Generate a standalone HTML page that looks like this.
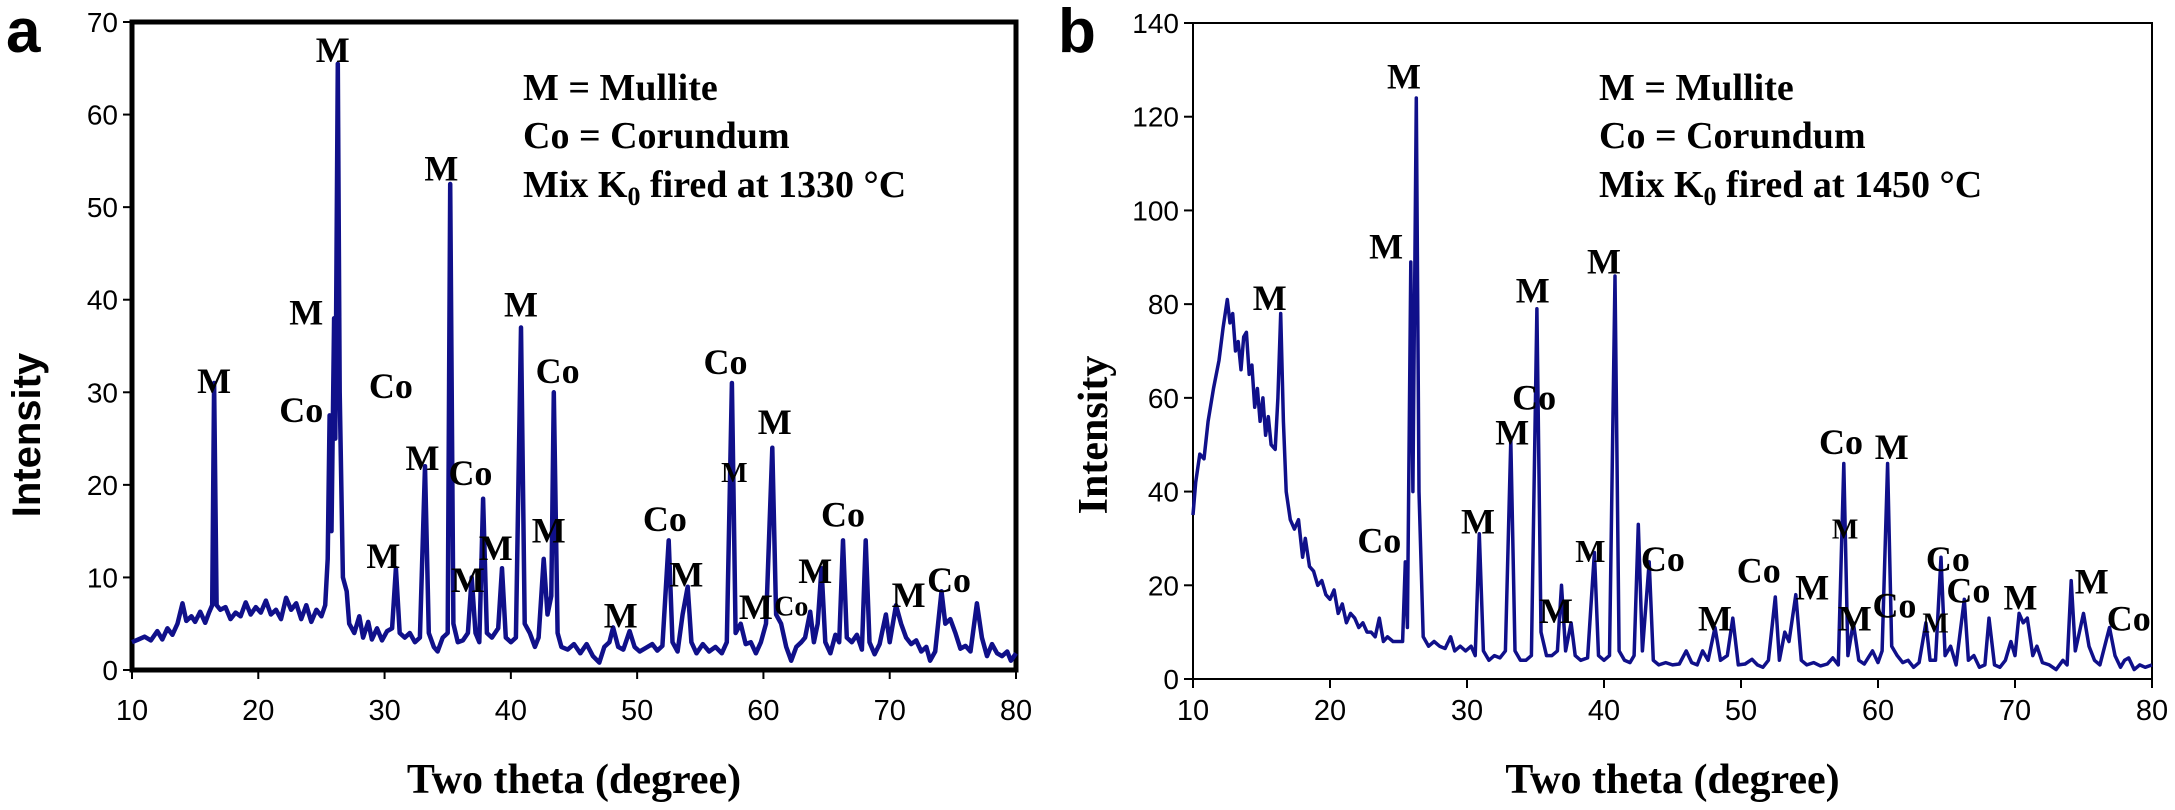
<!DOCTYPE html>
<html><head><meta charset="utf-8"><style>
html,body{margin:0;padding:0;background:#fff;}
svg{display:block;}
</style></head><body>
<svg id="fig" width="2175" height="810" viewBox="0 0 2175 810" xmlns="http://www.w3.org/2000/svg"></svg>
<script>
const xTicks = [10,20,30,40,50,60,70,80];
const yTicksA = [0,10,20,30,40,50,60,70];
const yTicksB = [0,20,40,60,80,100,120,140];
const thetaA = [10,10.5,11,11.5,12,12.4,12.8,13.2,13.6,14,14.3,14.7,15,15.4,15.8,16.1,16.35,16.5,16.7,17,17.4,17.8,18.2,18.6,19,19.4,19.8,20.2,20.6,21,21.4,21.8,22.2,22.6,23,23.4,23.8,24.2,24.6,25,25.3,25.5,25.65,25.8,26.0,26.1,26.3,26.45,26.7,27,27.2,27.6,28,28.3,28.7,29,29.4,29.8,30.2,30.6,30.9,31.2,31.6,32,32.4,32.8,33.2,33.5,33.9,34.2,34.6,35,35.2,35.45,35.8,36.2,36.6,36.9,37.2,37.5,37.8,38.1,38.5,39,39.3,39.6,40,40.4,40.8,41.1,41.5,41.9,42.2,42.6,42.9,43.2,43.4,43.7,44,44.5,45,45.5,46,46.5,47,47.4,47.8,48.1,48.5,48.9,49.4,49.8,50.2,50.7,51.2,51.6,52,52.5,52.8,53.2,53.6,54,54.3,54.7,55.2,55.7,56.2,56.7,57.1,57.5,57.8,58.2,58.6,59,59.4,59.8,60.2,60.7,61,61.4,61.8,62.2,62.6,63,63.3,63.7,64,64.3,64.6,64.9,65.3,65.7,66,66.3,66.6,67,67.4,67.8,68.1,68.4,68.8,69.2,69.7,70,70.5,70.9,71.3,71.7,72.1,72.5,72.9,73.2,73.6,74.1,74.4,74.8,75.2,75.6,76,76.4,76.9,77.3,77.7,78.1,78.5,78.9,79.3,79.6,80];
const intensityA = [3,3.3,3.6,3.2,4.2,3.3,4.5,3.8,5,7.2,5.3,5.8,5.2,6.3,5.1,6.2,7,31,7,6.5,6.8,5.5,6.2,5.8,7.3,6,6.8,6.2,7.5,6,6.5,5.5,7.8,6.5,7.2,5.5,7,5.2,6.5,5.8,7,12,27.5,15,38,25,65.5,30,10,8.5,5,4,5.8,3.5,5.2,3.3,4.5,3.2,4.2,4.5,11,4,3.5,4,3,3.5,22,4,2.5,2,3.5,4,52.5,5,3,3.2,4,10,4,3,18.5,4,3.5,4.5,11,3.5,3,3.5,37,5,4,2.5,3.5,12,6,8,30,4,2.5,2.2,2.8,1.8,2.8,1.5,0.8,2.5,3,4.6,2.5,2.2,4.2,2.5,2,2.4,2.8,2.1,2.6,14,3,2,6,9,3,1.8,2.8,2,2.5,1.8,3,31,4,5,2.8,3,1.8,3,5,24,6,5,2.5,1,2.5,3,3.5,6.3,3,5,11,3,1.8,3.8,3,14,3.5,3,3.8,2.2,14,3,1.7,2.8,6,3,7,5,3.5,2.8,3.2,2,2.5,1,2,8.5,5,5.5,4,2.3,2.6,2,7.2,3.5,1.5,2.8,1.8,1.5,2,1,1.8];
const thetaB = [10,10.2,10.5,10.8,11.1,11.5,11.9,12.2,12.5,12.7,12.9,13.1,13.3,13.5,13.7,13.9,14.1,14.3,14.5,14.7,14.9,15.1,15.3,15.5,15.7,16.0,16.2,16.4,16.6,16.8,17.1,17.4,17.7,18,18.2,18.5,18.8,19.1,19.4,19.7,20,20.3,20.6,20.9,21.2,21.5,21.8,22.1,22.4,22.7,23,23.3,23.6,23.9,24.2,24.6,25,25.3,25.5,25.65,25.9,26.05,26.3,26.5,26.8,27.2,27.6,28,28.4,28.8,29.1,29.5,29.9,30.3,30.6,30.9,31.2,31.6,32,32.4,32.8,33.2,33.5,33.9,34.3,34.7,35.1,35.4,35.8,36.2,36.6,36.9,37.2,37.6,37.9,38.3,38.8,39.3,39.6,40,40.4,40.8,41.1,41.5,41.9,42.2,42.5,42.8,43.3,43.6,44,44.5,45,45.5,46,46.4,46.8,47.2,47.6,48.1,48.5,49,49.4,49.8,50.3,50.8,51.2,51.6,52,52.5,52.8,53.2,53.5,54,54.4,54.8,55.3,55.8,56.3,56.7,57.1,57.5,57.8,58.2,58.6,59,59.6,60,60.3,60.7,61,61.4,61.8,62.2,62.6,63,63.5,63.8,64.2,64.6,64.9,65.3,65.7,66.3,66.6,67,67.4,67.8,68.1,68.5,68.9,69.3,69.7,70,70.3,70.6,70.9,71.3,71.6,72,72.5,73,73.5,73.8,74.1,74.4,75,75.4,75.8,76.2,76.9,77.3,77.7,78,78.3,78.7,79.1,79.5,80];
const intensityB = [35,42,48,47,55,62,68,75,81,76,78,70,72,66,73,74,65,67,58,62,55,60,52,56,50,49,60,78,55,40,34,32,34,26,30,24,23,20,21,18,17,19,14,16,12,14,13,11,12,10,10,9,13,8,9,8,8,8,25,11,89,40,124,40,9,7,8,7,6.5,9,6,7,6,7,5,31,6,4,5,4.5,6,51,6,4,4,5,79,10,5,5,6,20,6,12,5,4,4.5,27,5,4,5,86,6,4,3.5,5,33,6,25,4,3,3.5,3,3.2,6,3.5,3,6,4,11,4,5,13,3,3.2,4.2,3,2.5,4,17.5,4,10,8,18,4,3,3.5,2.8,3.2,4.5,3,46,5,12,4,3.2,6,3.5,6,46,7,5,3.5,4,2.5,3.5,12,4,4,26,5,7,3,17,4,5,2.5,3,13,3,2.5,4,8,5,14,12,13,5,7,3.5,3,2,4,3,21,6,14,7,4,3,11,5,2.5,4,4.5,2,3,2.5,3];
const labelTextA = ["M","Co","M","M","Co","M","M","Co","M","Co","M","M","M","M","Co","M","Co","M","M","Co","M","Co","M","M","M","Co"];
const labelThetaA = [16.5,23.4,23.8,25.9,30.5,34.5,33.0,36.8,40.8,43.7,29.9,36.6,38.8,43.0,52.2,53.9,57.0,57.7,60.9,66.3,48.7,62.2,59.4,64.1,71.5,74.7];
const labelValA = [29.9,26.8,37.3,65.7,29.4,52.9,21.6,20.0,38.2,31.0,11.0,8.4,11.9,13.8,15.0,9.0,32.0,20.3,25.5,15.5,4.6,5.9,5.5,9.4,6.8,8.4];
const labelSizeA = [36,36,36,36,36,36,36,36,36,36,36,36,36,36,36,36,36,28,36,36,36,28,36,36,36,36];
const labelTextB = ["M","M","M","M","M","Co","M","M","M","M","Co","Co","Co","M","M","Co","M","M","Co","M","Co","Co","M","M","Co","M"];
const labelThetaB = [15.6,24.1,25.4,34.8,40.0,34.9,33.3,30.8,36.5,39.0,44.3,23.6,51.3,55.2,48.1,57.3,57.6,61.0,61.2,58.3,65.1,66.6,64.2,70.4,78.3,75.6];
const labelValB = [78.7,89.7,126,80.4,86.5,57.5,50,31,12,25,23,27,20.6,17,10.3,48,30,47,13.1,10.3,23,16.3,9.9,14.8,10.3,18.3];
const labelSizeB = [36,36,36,36,36,36,36,36,36,32,36,36,36,36,36,36,28,36,36,36,36,36,28,36,36,36];
const legendA = ["M = Mullite","Co = Corundum","Mix K","0"," fired at 1330 °C"];
const legendB = ["M = Mullite","Co = Corundum","Mix  K","0","  fired at 1450 °C"];

const NS = "http://www.w3.org/2000/svg";
const svg = document.getElementById('fig');
function mk(tag, attrs, parent){const e=document.createElementNS(NS,tag);for(const k in attrs)e.setAttribute(k,attrs[k]);(parent||svg).appendChild(e);return e;}

function panel(cfg){
  const g = mk('g',{});
  
  
  const sx = v => cfg.x0 + (v-10)/(80-10)*(cfg.x1-cfg.x0);
  const sy = v => cfg.y0 - v/cfg.ymax*(cfg.y0-cfg.y1);
  const fr = mk('rect',{x:cfg.x0,y:cfg.y1,width:cfg.x1-cfg.x0,height:cfg.y0-cfg.y1,fill:'none',stroke:'#000','stroke-width':cfg.frameW},g);
  
  
  cfg.yTicks.forEach(t=>{
    const y=sy(t);
    const l=mk('line',{x1:cfg.x0-9,x2:cfg.x0,y1:y,y2:y,stroke:'#000','stroke-width':2},g);
    
    
    const tx=mk('text',{x:cfg.x0-14,y:y+10,'text-anchor':'end','font-family':'Liberation Sans, sans-serif','font-size':28},g);
    tx.textContent=t;
    
    
  });
  xTicks.forEach(t=>{
    const x=sx(t);
    const l=mk('line',{x1:x,x2:x,y1:cfg.y0,y2:cfg.y0+9,stroke:'#000','stroke-width':2},g);
    
    
    const tx=mk('text',{x:x,y:720,'text-anchor':'middle','font-family':'Liberation Sans, sans-serif','font-size':29},g);
    tx.textContent=t;
    
    
  });
  const pts = cfg.th.map((t,i)=>sx(t).toFixed(1)+','+sy(cfg.iv[i]).toFixed(1)).join(' ');
  const pl = mk('polyline',{points:pts,fill:'none',stroke:'#10108a','stroke-width':cfg.lineW,'stroke-linejoin':'round'},g);
  
  
  cfg.lt.forEach((s,i)=>{
    const tx=mk('text',{x:sx(cfg.lth[i]),y:sy(cfg.lv[i]),'text-anchor':'middle','font-family':'Liberation Serif, serif','font-weight':'bold','font-size':cfg.ls[i]},g);
    tx.textContent=s;
    
    
  });
  const lg = mk('g',{'font-family':'Liberation Serif, serif','font-weight':'bold','font-size':38},g);
  
  
  const t1=mk('text',{x:cfg.lgx,y:100},lg); t1.textContent=cfg.leg[0];
  const t2=mk('text',{x:cfg.lgx,y:148},lg); t2.textContent=cfg.leg[1];
  const t3=mk('text',{x:cfg.lgx,y:197},lg);
  const a=mk('tspan',{},t3); a.textContent=cfg.leg[2];
  const b=mk('tspan',{dy:8,'font-size':26},t3); b.textContent=cfg.leg[3];
  const c=mk('tspan',{dy:-8},t3); c.textContent=cfg.leg[4];
  const xt=mk('text',{x:(cfg.x0+cfg.x1)/2,y:793,'text-anchor':'middle','font-family':'Liberation Serif, serif','font-weight':'bold','font-size':42},g);
  xt.textContent='Two theta (degree)';
  
  
  const yt=mk('text',{x:0,y:0,'text-anchor':'middle','font-family':cfg.ytFont,'font-weight':'bold','font-size':cfg.ytSize,transform:'translate('+cfg.ytx+',435) rotate(-90)'},g);
  yt.textContent='Intensity';
  
  
  const pl2=mk('text',{x:cfg.plx,y:52,'font-family':'Liberation Sans, sans-serif','font-weight':'bold','font-size':62},g);
  pl2.textContent=cfg.letter;
  
  
}

panel({name:'panel-a',x0:132,x1:1016,y0:670,y1:22,ymax:70,yTicks:yTicksA,th:thetaA,iv:intensityA,lt:labelTextA,lth:labelThetaA,lv:labelValA,ls:labelSizeA,leg:legendA,lgx:523,frameW:5,lineW:4.5,ytFont:'Liberation Sans, sans-serif',ytSize:40,ytx:40,plx:6,letter:'a'});
panel({name:'panel-b',x0:1193,x1:2152,y0:679,y1:23,ymax:140,yTicks:yTicksB,th:thetaB,iv:intensityB,lt:labelTextB,lth:labelThetaB,lv:labelValB,ls:labelSizeB,leg:legendB,lgx:1599,frameW:2,lineW:3.5,ytFont:'Liberation Serif, serif',ytSize:42,ytx:1107,plx:1058,letter:'b'});
</script>
</body></html>
